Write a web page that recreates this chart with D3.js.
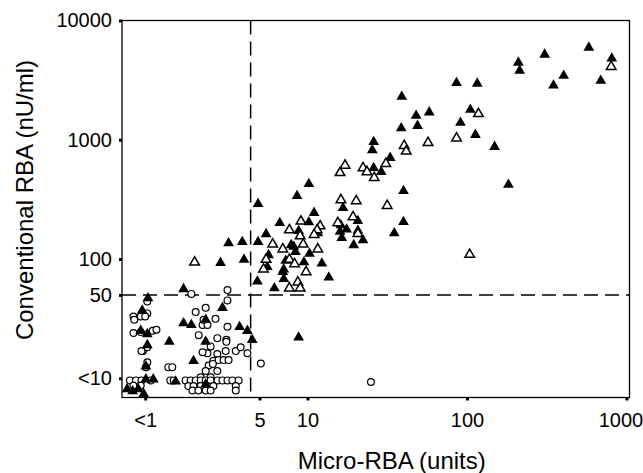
<!DOCTYPE html>
<html>
<head>
<meta charset="utf-8">
<script src="https://cdn.jsdelivr.net/npm/d3@7"></script>
<style>
  body { margin: 0; background: #fff; }
  text { font-family: "Liberation Sans", Arial, sans-serif; fill: #000; }
</style>
</head>
<body>
<div id="chart"></div>
<script>
// axis ticks ("<1" and "<10" mark the below-detection values)
var xTickValues = [0.96, 5, 10, 100, 1000];
var xTickLabels = ["<1", "5", "10", "100", "1000"];
var yTickValues = [10, 50, 100, 1000, 10000];
var yTickLabels = ["<10", "50", "100", "1000", "10000"];

// cut-off lines [micro-RBA, conventional RBA]
var cutoffs = [4.4, 50];

// points as [micro-RBA, conventional RBA]
var filledTri = [
  [581, 5930], [809, 4800], [307, 5180], [210, 4440], [214, 3800], [404, 3450], [349, 2850], [690, 3130],
  [86, 3000], [116, 2960], [39, 2300], [48, 1590], [58, 1700], [49, 1310], [105, 1790], [91, 1390],
  [38.7, 1250], [113, 1100], [149, 873], [40, 373], [182, 420], [26, 960], [25.5, 820], [33, 706],
  [26, 580], [29, 538], [10.2, 427], [8.6, 338], [16.7, 268], [4.9, 290], [11, 244], [20.7, 209],
  [40, 205], [6.7, 201], [10.2, 204], [16.2, 192], [17.6, 177], [8.8, 172], [11.6, 165], [16, 170],
  [20.7, 173], [35, 165], [5.5, 162], [16.4, 150], [22.3, 144], [19.5, 131], [3.9, 139], [4.9, 139],
  [7.9, 131], [8.2, 127], [8.4, 115], [10.3, 111], [5.7, 108], [7.3, 97], [9.5, 94], [12.3, 92],
  [4.0, 99], [5.6, 86], [7.1, 82], [7.0, 78], [7.1, 68], [13.6, 70], [4.85, 65], [6.2, 57],
  [2.85, 93], [3.2, 136],
  [1.0, 47], [1.67, 56], [2.93, 39], [0.92, 37], [1.67, 29], [1.87, 28], [2.3, 31], [3.75, 27],
  [4.2, 25], [0.9, 25], [0.99, 23.5], [1.36, 20.3], [2.3, 20.3], [4.5, 21], [8.8, 22], [0.99, 19],
  [0.97, 12.6], [1.93, 14], [0.97, 9.8], [1.08, 9.8], [1.49, 9.4], [0.74, 8.1], [0.8, 7.8],
  [0.87, 8.1], [0.94, 7.4], [2.3, 8.9]
];
var openTri = [
  [802, 4100], [118, 1650], [57, 944], [86, 1030], [40.4, 890], [41.6, 800], [104, 109], [31.6, 280],
  [16.2, 313], [20.2, 307], [19.3, 225], [9.1, 207], [12, 189], [15.5, 201], [7.7, 175], [11.5, 175],
  [20.7, 163], [9, 156], [11, 160], [6.05, 133], [9.4, 133], [7, 121], [11.6, 121], [5.5, 99],
  [7.7, 99], [8.3, 91], [5.3, 82], [9.8, 78], [8.7, 64], [7.7, 57], [9, 57], [17.2, 610],
  [16, 528], [22.3, 580], [23.6, 538], [26.2, 480], [31, 630], [1.96, 94]
];
var openCircle = [
  [0.99, 44], [1.87, 51], [3.15, 55], [3.15, 45], [0.81, 33], [0.82, 31], [0.9, 33], [0.99, 35],
  [0.96, 33], [1.99, 36], [2.3, 39], [2.65, 31.5], [2.2, 28], [2.36, 28], [2.23, 31], [3.15, 27],
  [0.81, 24], [0.9, 24.4], [1.07, 25], [1.13, 25.5], [2.08, 23], [2.72, 21.7], [3.1, 21], [3.1, 20.2],
  [2.47, 18.5], [2.36, 16.2], [2.2, 16.5], [2.72, 16], [3.07, 16.9], [3.55, 16.9], [3.81, 18.2], [4.2, 16.2],
  [0.93, 16.9], [0.99, 18.2], [0.91, 16.9], [0.99, 13.6], [0.97, 12.4], [1.34, 12.4], [1.42, 12.4], [2.57, 14],
  [2.77, 14.2], [2.98, 14.2], [3.2, 14.2], [2.4, 12.8], [2.55, 13.2], [2.3, 11.5], [2.14, 10.2], [2.47, 10.2],
  [2.72, 11.5], [5.1, 13.3], [25, 9.3],
  [0.77, 9.6], [0.84, 9.6], [0.91, 9.6], [1.04, 9.6], [0.81, 8.7], [0.9, 8.7], [1.38, 9.6], [1.45, 9.6],
  [1.72, 9.6], [1.85, 9.6], [1.99, 9.6], [2.14, 9.6], [2.3, 9.6], [2.47, 9.6], [2.73, 9.6], [2.93, 9.6],
  [3.15, 9.6], [3.38, 9.6], [3.7, 9.6],
  [1.79, 8.6], [1.93, 8.6], [2.14, 8.6], [2.36, 8.6], [2.57, 8.6], [3.55, 8.6],
  [1.9, 7.9], [2.07, 7.9], [2.3, 7.9], [2.47, 7.9], [3.55, 7.9]
];

var W = 643, H = 473;
var margin = { top: 20.5, right: 13.5, bottom: 75.5, left: 122 },
  width = W - margin.left - margin.right,
  height = H - margin.top - margin.bottom;

var svg = d3.select("#chart")
  .append("svg")
  .attr("width", W)
  .attr("height", H)
  .append("g")
  .attr("transform", "translate(" + margin.left + "," + margin.top + ")");

var x = d3.scaleLog().domain([0.687, 1045]).range([0, width]);
var y = d3.scaleLog().domain([6.9, 10000]).range([height, 0]);

// X axis
var xAxis = svg.append("g")
  .attr("transform", "translate(0," + height + ")")
  .call(d3.axisBottom(x)
    .tickValues(xTickValues)
    .tickFormat(function (d, i) { return xTickLabels[i]; })
    .tickSizeInner(3).tickSizeOuter(0).tickPadding(12.5));

// Y axis
var yAxis = svg.append("g")
  .call(d3.axisLeft(y)
    .tickValues(yTickValues)
    .tickFormat(function (d, i) { return yTickLabels[i]; })
    .tickSizeInner(3).tickSizeOuter(0).tickPadding(7));

[xAxis, yAxis].forEach(function (g) {
  g.select(".domain").remove();
  g.selectAll(".tick line").attr("stroke", "#000").attr("stroke-width", 3);
  g.selectAll(".tick text").style("font-size", "20px").attr("fill", "#000");
});
// last x label sits against the page edge
xAxis.selectAll(".tick text").filter(function (d, i) { return i === xTickValues.length - 1; })
  .attr("dx", -6);

// frame
svg.append("rect")
  .attr("width", width)
  .attr("height", height)
  .attr("fill", "none")
  .attr("stroke", "#000")
  .attr("stroke-width", 1.3);

// dashed cut-offs
svg.append("line")
  .attr("x1", x(cutoffs[0])).attr("x2", x(cutoffs[0]))
  .attr("y1", 0).attr("y2", height)
  .attr("stroke", "#000").attr("stroke-width", 1.5)
  .attr("stroke-dasharray", "14,7");
svg.append("line")
  .attr("x1", 0).attr("x2", width)
  .attr("y1", y(cutoffs[1])).attr("y2", y(cutoffs[1]))
  .attr("stroke", "#000").attr("stroke-width", 1.5)
  .attr("stroke-dasharray", "14,7");

// points
svg.selectAll(".circ")
  .data(openCircle)
  .enter()
  .append("circle")
  .attr("cx", function (d) { return x(d[0]); })
  .attr("cy", function (d) { return y(d[1]); })
  .attr("r", 3.4)
  .attr("fill", "#fff")
  .attr("stroke", "#000")
  .attr("stroke-width", 1.2);

svg.selectAll(".ftri")
  .data(filledTri)
  .enter()
  .append("path")
  .attr("d", d3.symbol().type(d3.symbolTriangle).size(50))
  .attr("transform", function (d) { return "translate(" + x(d[0]) + "," + y(d[1]) + ")"; })
  .attr("fill", "#000");

svg.selectAll(".otri")
  .data(openTri)
  .enter()
  .append("path")
  .attr("d", d3.symbol().type(d3.symbolTriangle).size(40))
  .attr("transform", function (d) { return "translate(" + x(d[0]) + "," + y(d[1]) + ")"; })
  .attr("fill", "#fff")
  .attr("stroke", "#000")
  .attr("stroke-width", 1.5);

// axis titles
svg.append("text")
  .attr("x", width / 2 + 16)
  .attr("y", H - margin.top - 4)
  .attr("text-anchor", "middle")
  .style("font-size", "24px")
  .text("Micro-RBA (units)");

svg.append("text")
  .attr("transform", "translate(" + (33 - margin.left) + "," + (200 - margin.top) + ")rotate(-90)")
  .attr("text-anchor", "middle")
  .style("font-size", "24px")
  .text("Conventional RBA (nU/ml)");
</script>
</body>
</html>
